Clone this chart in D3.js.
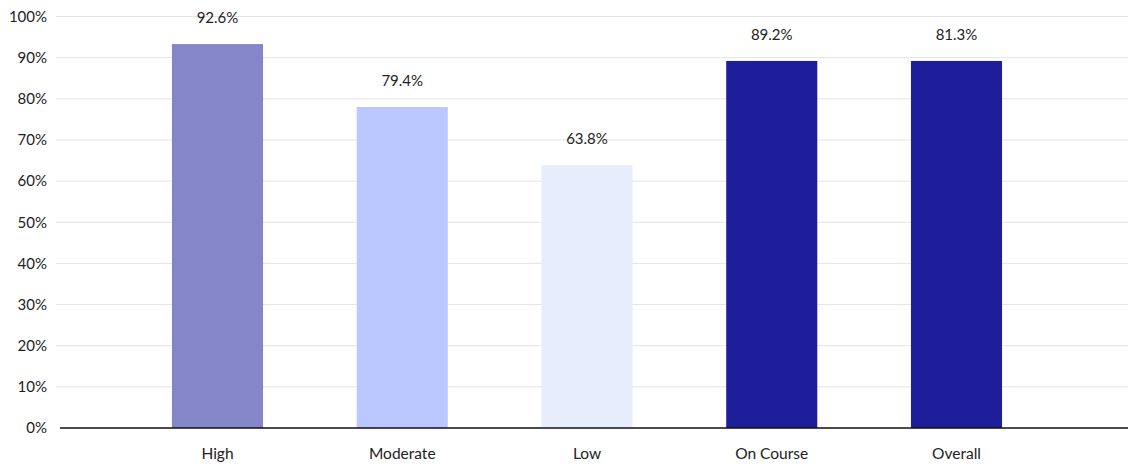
<!DOCTYPE html>
<html>
<head>
<meta charset="utf-8">
<script src="https://cdn.jsdelivr.net/npm/d3@7"></script>
<style>
  html, body { margin: 0; padding: 0; background: #fff; }
  svg { display: block; font-family: Lato, "Noto Sans", sans-serif; }
</style>
</head>
<body>
<svg id="chart" width="1128" height="466"></svg>
<script>
// data
const categories = ['High', 'Moderate', 'Low', 'On Course', 'Overall'];
const barValues = [93.3, 78.0, 63.9, 89.2, 89.2];          // drawn bar heights (%)
const valueLabels = ['92.6%', '79.4%', '63.8%', '89.2%', '81.3%']; // printed labels
const barColors = ['#8585ca', '#bbc8ff', '#e8edfd', '#1e1e9a', '#1e1e9a'];
const yTicks = [0, 10, 20, 30, 40, 50, 60, 70, 80, 90, 100];

const W = 1128, H = 466;
const svg = d3.select('#chart');

const y = d3.scaleLinear().domain([0, 100]).range([428, 16.5]);
const x = d3.scaleBand().domain(categories).range([60, 1114])
  .paddingInner(0.507).paddingOuter(0.606);

// grid
svg.append('g')
  .selectAll('line')
  .data(yTicks.filter(t => t > 0))
  .join('line')
  .attr('x1', 56).attr('x2', W)
  .attr('y1', d => y(d)).attr('y2', d => y(d))
  .attr('stroke', '#e3e3e3').attr('stroke-width', 1);

// y labels
const yAxis = d3.axisLeft(y).tickValues(yTicks).tickFormat(d => d + '%').tickSize(0).tickPadding(0);
const yg = svg.append('g').attr('transform', 'translate(47,0)').call(yAxis);
yg.select('.domain').remove();
yg.selectAll('text').attr('font-size', 15).attr('fill', '#222').attr('font-family', 'Lato, "Noto Sans", sans-serif');

// bars
svg.append('g')
  .selectAll('rect')
  .data(categories)
  .join('rect')
  .attr('x', d => x(d))
  .attr('width', x.bandwidth())
  .attr('y', (d, i) => y(barValues[i]))
  .attr('height', (d, i) => y(0) - y(barValues[i]))
  .attr('fill', (d, i) => barColors[i]);

// value labels
svg.append('g')
  .selectAll('text')
  .data(categories)
  .join('text')
  .attr('x', d => x(d) + x.bandwidth() / 2)
  .attr('y', (d, i) => y(barValues[i]) - 21)
  .attr('text-anchor', 'middle')
  .attr('font-size', 15)
  .attr('fill', '#222')
  .text((d, i) => valueLabels[i]);

// x axis
const xAxis = d3.axisBottom(x).tickSize(0).tickPadding(20);
const xg = svg.append('g').attr('transform', `translate(0,${y(0)})`).call(xAxis);
xg.select('.domain').remove();
xg.selectAll('text').attr('font-size', 15.5).attr('fill', '#222').attr('font-family', 'Lato, "Noto Sans", sans-serif');
svg.append('line')
  .attr('x1', 60).attr('x2', W)
  .attr('y1', y(0)).attr('y2', y(0))
  .attr('stroke', '#111').attr('stroke-width', 1.3);
</script>
</body>
</html>
